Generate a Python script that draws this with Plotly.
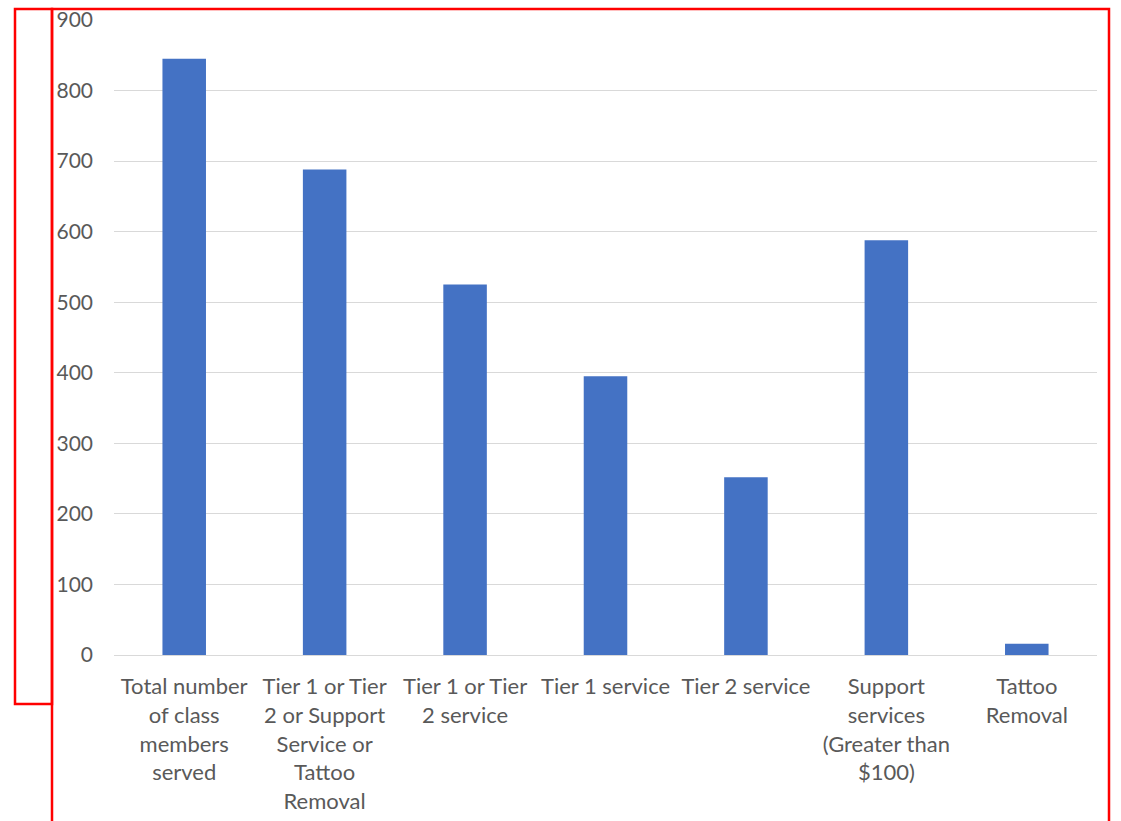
import plotly.graph_objects as go

# Class members served, by service category
categories = [
    "Total number of class members served",
    "Tier 1 or Tier 2 or Support Service or Tattoo Removal",
    "Tier 1 or Tier 2 service",
    "Tier 1 service",
    "Tier 2 service",
    "Support services (Greater than $100)",
    "Tattoo Removal",
]
tick_labels = [
    "Total number<br>of class<br>members<br>served",
    "Tier 1 or Tier<br>2 or Support<br>Service or<br>Tattoo<br>Removal",
    "Tier 1 or Tier<br>2 service",
    "Tier 1 service",
    "Tier 2 service",
    "Support<br>services<br>(Greater than<br>$100)",
    "Tattoo<br>Removal",
]
members = [845, 688, 525, 395, 252, 588, 16]
y_ticks = [0, 100, 200, 300, 400, 500, 600, 700, 800, 900]

W, H = 1121, 821
L, R, T, B = 114, 24, 20, 166
pw, ph = W - L - R, H - T - B


def px(x):
    return (x - L) / pw


def py(y):
    return (H - B - y) / ph


fig = go.Figure(
    go.Bar(
        x=categories,
        y=members,
        marker=dict(color="#4472C4", line=dict(width=0)),
        width=0.31,
    )
)

font_family = "Lato, 'Open Sans', sans-serif"
fig.update_layout(
    width=W,
    height=H,
    margin=dict(l=L, r=R, t=T, b=B, autoexpand=False),
    paper_bgcolor="white",
    plot_bgcolor="white",
    showlegend=False,
    font=dict(family=font_family, size=22, color="#595959"),
)
fig.update_xaxes(
    tickmode="array",
    tickvals=categories,
    ticktext=tick_labels,
    showgrid=False,
    showline=True,
    linecolor="#d9d9d9",
    linewidth=1,
    ticks="",
    tickangle=0,
    automargin=False,
    ticklabelstandoff=12,
    tickfont=dict(size=22, color="#595959"),
)
fig.update_yaxes(
    range=[0, 900],
    tickvals=y_ticks,
    showgrid=True,
    gridcolor="#d9d9d9",
    gridwidth=1,
    zeroline=False,
    ticks="",
    automargin=False,
    ticklabelstandoff=20,
    tickfont=dict(size=21, color="#595959"),
)

# Red outline boxes around the chart
red = dict(color="#FF0000", width=2.5)
fig.add_shape(type="rect", xref="paper", yref="paper",
              x0=px(15), x1=px(52), y0=py(704), y1=py(9), line=red)
fig.add_shape(type="rect", xref="paper", yref="paper",
              x0=px(52), x1=px(1109), y0=py(830), y1=py(9), line=red)

fig.write_html("out.html")
